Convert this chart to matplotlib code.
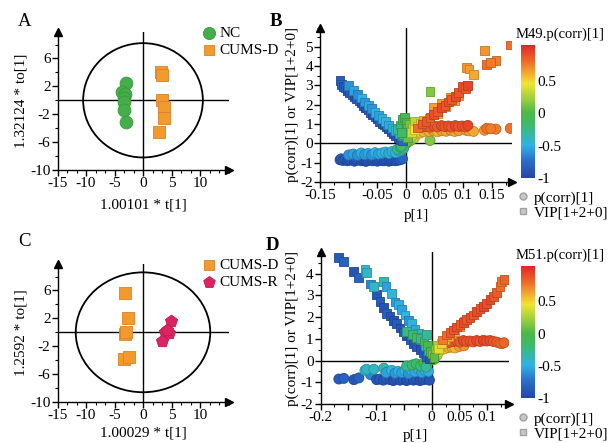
import numpy as np
import matplotlib
matplotlib.use('Agg')
import matplotlib.pyplot as plt
from matplotlib.colors import LinearSegmentedColormap, Normalize
from matplotlib.ticker import AutoMinorLocator
from matplotlib.lines import Line2D
from matplotlib.patches import Ellipse

plt.rcParams['font.family'] = ['Liberation Serif', 'DejaVu Serif']
plt.rcParams['axes.unicode_minus'] = False

# ---------------- data ----------------
# Panel A (score plot)
a_nc_x = [-2.9, -3.6, -3.1, -3.3, -3.4, -3.3, -2.9]
a_nc_y = [2.5, 1.2, 0.9, 0.3, -0.2, -1.4, -3.1]
a_d_x = [3.2, 3.3, 3.4, 3.6, 3.6, 2.8]
a_d_y = [4.0, 3.7, 0.1, -0.9, -2.5, -4.6]
a_ellipse = (10.5, 8.2)

# Panel C (score plot)
c_d_x = [-3.2, -2.7, -3.1, -3.0, -3.3, -2.5]
c_d_y = [5.7, 2.0, -0.2, 0.1, -3.85, -3.5]
c_r_x = [4.9, 3.9, 4.6, 3.3, 4.2]
c_r_y = [1.6, 0.1, -0.1, -1.3, 0.3]
c_ellipse = (11.8, 8.6)

# Panel B (S-plot, model M49): loading p[1], p(corr)[1], VIP
b_p = [-0.115, -0.113, -0.110, -0.106, -0.102, -0.098, -0.094, -0.090, -0.086, -0.082,
       -0.078, -0.074, -0.070, -0.066, -0.062, -0.058, -0.054, -0.050, -0.046, -0.042,
       -0.038, -0.034, -0.030, -0.026, -0.022, -0.018, -0.014, -0.010, -0.006,
       -0.100, -0.092, -0.085, -0.078, -0.072, -0.066, -0.060, -0.054, -0.048, -0.042,
       -0.036, -0.030, -0.024, -0.018, -0.012, -0.007,
       -0.015, -0.010, -0.006, -0.003, 0.000, 0.003, 0.006, 0.009, -0.004, 0.002,
       0.012, 0.015, -0.008, 0.042,
       0.010, 0.015, 0.020, 0.025, 0.030,
       0.040, 0.048, 0.055, 0.062, 0.070, 0.078, 0.085, 0.092, 0.105, 0.110,
       0.118, 0.137, 0.141, 0.157, 0.182, 0.148,
       0.020, 0.028, 0.035, 0.042, 0.048, 0.055, 0.062, 0.068, 0.074, 0.080,
       0.086, 0.092, 0.098, 0.104, 0.108]
b_pcorr = [-0.85, -0.80, -0.88, -0.83, -0.90, -0.86, -0.82, -0.92, -0.87, -0.80,
           -0.90, -0.85, -0.93, -0.88, -0.82, -0.90, -0.86, -0.92, -0.84, -0.88,
           -0.90, -0.85, -0.92, -0.88, -0.86, -0.90, -0.87, -0.85, -0.80,
           -0.60, -0.55, -0.62, -0.50, -0.58, -0.52, -0.60, -0.48, -0.55, -0.50,
           -0.45, -0.52, -0.42, -0.48, -0.40, -0.35,
           -0.30, -0.20, -0.12, -0.05, 0.00, 0.05, 0.12, 0.18, -0.25, 0.08,
           0.25, 0.30, -0.15, 0.15,
           0.35, 0.45, 0.50, 0.55, 0.60,
           0.62, 0.65, 0.60, 0.66, 0.63, 0.68, 0.62, 0.66, 0.68, 0.65,
           0.62, 0.68, 0.78, 0.74, 0.78, 0.76,
           0.80, 0.85, 0.88, 0.84, 0.90, 0.86, 0.92, 0.87, 0.90, 0.85,
           0.92, 0.88, 0.90, 0.86, 0.93]
b_vip = [3.25, 3.05, 2.95, 2.90, 2.75, 2.65, 2.55, 2.40, 2.30, 2.20,
         2.10, 1.95, 1.85, 1.75, 1.60, 1.50, 1.40, 1.30, 1.15, 1.05,
         0.95, 0.85, 0.75, 0.62, 0.52, 0.40, 0.30, 0.22, 0.15,
         3.00, 2.75, 2.55, 2.35, 2.15, 1.98, 1.80, 1.62, 1.45, 1.28,
         1.12, 0.95, 0.80, 0.65, 0.50, 0.38,
         0.70, 0.95, 1.25, 1.35, 1.10, 0.80, 1.00, 0.60, 0.45, 0.30,
         0.85, 1.15, 0.55, 2.68,
         0.55, 0.70, 0.90, 1.05, 1.20,
         1.30, 1.85, 1.55, 2.05, 1.90, 2.40, 2.20, 2.50, 3.93, 3.85,
         3.58, 4.80, 4.10, 4.30, 5.10, 4.20,
         0.80, 1.00, 1.15, 1.35, 1.50, 1.65, 1.85, 1.98, 2.15, 2.28,
         2.45, 2.62, 2.95, 2.85, 2.98]

# Panel D (S-plot, model M51)
d_p = [-0.167, -0.158, -0.140, -0.131, -0.110, -0.099, -0.093, -0.087, -0.081, -0.075,
       -0.069, -0.063, -0.057, -0.051, -0.045, -0.039, -0.033, -0.027, -0.021, -0.015,
       -0.009, -0.004,
       -0.120, -0.117, -0.104, -0.086, -0.082, -0.072, -0.066, -0.060, -0.054, -0.048,
       -0.042, -0.036, -0.030, -0.024, -0.018, -0.012, -0.006,
       -0.045, -0.035, -0.028, -0.020, -0.014, -0.008, -0.003, 0.002, 0.006, 0.010,
       -0.010, 0.004,
       0.012, 0.018, 0.024, 0.030, 0.036, 0.042, 0.050, 0.058,
       0.020, 0.027, 0.033, 0.039, 0.045, 0.051, 0.057, 0.063, 0.069, 0.075,
       0.081, 0.087, 0.093, 0.099, 0.105, 0.111, 0.117, 0.123, 0.126, 0.130]
d_pcorr = [-0.85, -0.82, -0.88, -0.80, -0.65, -0.88, -0.85, -0.90, -0.83, -0.88,
           -0.92, -0.85, -0.90, -0.86, -0.92, -0.84, -0.90, -0.87, -0.92, -0.88,
           -0.85, -0.90,
           -0.45, -0.40, -0.40, -0.35, -0.55, -0.45, -0.58, -0.50, -0.55, -0.48,
           -0.60, -0.45, -0.52, -0.40, -0.55, -0.45, -0.50,
           -0.25, -0.20, -0.15, -0.25, -0.10, -0.05, 0.00, 0.10, 0.15, 0.25,
           -0.30, 0.05,
           0.40, 0.50, 0.55, 0.60, 0.62, 0.58, 0.65, 0.68,
           0.75, 0.80, 0.85, 0.88, 0.90, 0.85, 0.92, 0.88, 0.90, 0.86,
           0.92, 0.88, 0.93, 0.90, 0.92, 0.88, 0.85, 0.80, 0.78, 0.82]
d_vip = [4.73, 4.58, 4.12, 3.81, 3.53, 3.03, 2.72, 2.46, 2.18, 2.05,
         1.85, 1.70, 1.50, 1.32, 1.15, 0.98, 0.80, 0.65, 0.50, 0.35,
         0.20, 0.10,
         4.20, 4.05, 3.40, 3.64, 3.40, 3.10, 2.70, 2.60, 2.35, 2.10,
         1.85, 1.70, 1.45, 1.25, 0.95, 0.70, 0.45,
         1.35, 1.20, 1.05, 1.00, 0.90, 0.70, 0.40, 0.30, 0.50, 0.70,
         1.20, 0.15,
         0.55, 0.80, 0.95, 1.10, 1.25, 1.35, 1.55, 1.80,
         0.95, 1.18, 1.30, 1.41, 1.55, 1.65, 1.75, 1.88, 2.00, 2.10,
         2.25, 2.40, 2.49, 2.62, 2.80, 2.95, 3.15, 3.41, 3.64, 3.72]

# ---------------- style ----------------
W, H = 616, 443
fig = plt.figure(figsize=(W / 100, H / 100), dpi=100)
FS = 11

cmap = LinearSegmentedColormap.from_list('splot', [
    (0.00, '#2446a6'), (0.13, '#2a6ecb'), (0.25, '#2fb3e6'), (0.40, '#3dba6a'),
    (0.49, '#4cb848'), (0.63, '#b5d63a'), (0.71, '#f1e433'), (0.80, '#f4a231'),
    (0.88, '#ee6a28'), (1.00, '#e2262a')])
norm = Normalize(vmin=-1, vmax=1.05)


def ax_px(l, r, b, t):
    return fig.add_axes([l / W, 1 - b / H, (r - l) / W, (b - t) / H])


def base_axes(ax):
    for s in ['top', 'right']:
        ax.spines[s].set_visible(False)
    for s in ['left', 'bottom']:
        ax.spines[s].set_linewidth(1.0)
    ax.tick_params(axis='both', which='major', direction='out', length=4, width=1,
                   labelsize=FS, pad=1)
    ax.tick_params(axis='both', which='minor', direction='out', length=2, width=0.8)
    ax.plot(0, 1, marker='^', color='k', ms=6, transform=ax.transAxes, clip_on=False)
    ax.plot(1, 0, marker='>', color='k', ms=6, transform=ax.transAxes, clip_on=False)
    ax.axhline(0, color='k', lw=1.0, zorder=1)
    ax.axvline(0, color='k', lw=1.0, zorder=1)


def score_panel(ax, ell, xlabel, ylabel, xpad):
    base_axes(ax)
    ax.set_xlim(-15, 15)
    ax.set_ylim(-10, 9.8)
    ax.add_patch(Ellipse((0, 0), 2 * ell[0], 2 * ell[1], fill=False, lw=1.3, ec='k', zorder=2))
    ax.set_xticks([-15, -10, -5, 0, 5, 10])
    ax.set_yticks([-10, -6, -2, 2, 6])
    ax.xaxis.set_minor_locator(AutoMinorLocator(3))
    ax.yaxis.set_minor_locator(AutoMinorLocator(2))
    ax.set_xlabel(xlabel, fontsize=FS, labelpad=xpad)
    ax.set_ylabel(ylabel, fontsize=FS, labelpad=2)


def splot_panel(ax, p, pc, vip, xlim, ylim, xticks, xticklabels, yticks, xpad):
    base_axes(ax)
    ax.set_xlim(xlim)
    ax.set_ylim(ylim)
    cols = cmap(norm(np.array(pc)))
    edge = cols.copy()
    edge[:, :3] *= 0.8
    ax.scatter(p, pc, s=52, c=cols, marker='o', edgecolors=edge, linewidths=0.6, zorder=3)
    ax.scatter(p, vip, s=40, c=cols, marker='s', edgecolors=edge, linewidths=0.6, zorder=3)
    ax.set_xticks(xticks)
    ax.set_xticklabels(xticklabels)
    ax.set_yticks(yticks)
    ax.yaxis.set_minor_locator(AutoMinorLocator(2))
    ax.xaxis.set_minor_locator(AutoMinorLocator(2))
    ax.set_xlabel('p[1]', fontsize=FS, labelpad=xpad)
    ax.set_ylabel('p(corr)[1] or VIP[1+2+0]', fontsize=FS, labelpad=1)


def colorbar_panel(l, r, b, t, title, leg_y):
    cax = ax_px(l, r, b, t)
    sm = plt.cm.ScalarMappable(norm=norm, cmap=cmap)
    cb = fig.colorbar(sm, cax=cax)
    cb.outline.set_visible(False)
    cb.set_ticks([0.5, 0, -0.5, -1])
    cb.set_ticklabels(['0.5', '0', '-0.5', '-1'])
    cax.tick_params(length=0, labelsize=FS, pad=2)
    fig.text((l - 5) / W, 1 - (t - 11) / H, title, fontsize=FS - 0.5, ha='left', va='center')
    handles = [Line2D([], [], ls='none', marker='o', ms=5, mfc='#c8c8c8', mec='#a0a0a0'),
               Line2D([], [], ls='none', marker='s', ms=5, mfc='#c8c8c8', mec='#a0a0a0')]
    fig.legend(handles, ['p(corr)[1]', 'VIP[1+2+0]'], loc='upper left',
               bbox_to_anchor=((l - 6) / W, 1 - leg_y / H), frameon=False,
               fontsize=FS, handlelength=1.0, handletextpad=0.2, labelspacing=0.05,
               borderpad=0, borderaxespad=0)


# Panel A
axA = ax_px(57.5, 228.5, 170, 32)
score_panel(axA, a_ellipse, '1.00101 * t[1]', '1.32124 * to[1]', 6)
axA.scatter(a_nc_x, a_nc_y, s=85, c='#45ae4b', edgecolors='#389a3e', linewidths=0.6,
            marker='o', zorder=3, label='NC')
axA.scatter(a_d_x, a_d_y, s=65, c='#f39a2e', edgecolors='#d9822a', linewidths=0.6,
            marker='s', zorder=3, label='CUMS-D')
axA.legend(loc='upper left', bbox_to_anchor=(0.85, 1.04), frameon=False, fontsize=FS,
           handlelength=0.8, handletextpad=0.3, labelspacing=0.2, borderpad=0,
           borderaxespad=0, markerscale=0.95)

# Panel C
axC = ax_px(57.5, 228.5, 402, 264)
score_panel(axC, c_ellipse, '1.00029 * t[1]', '1.2592 * to[1]', 3.5)
axC.scatter(c_d_x, c_d_y, s=65, c='#f39a2e', edgecolors='#d9822a', linewidths=0.6,
            marker='s', zorder=3, label='CUMS-D')
axC.scatter(c_r_x, c_r_y, s=85, c='#de2362', edgecolors='#b81d50', linewidths=0.6,
            marker='p', zorder=3, label='CUMS-R')
axC.legend(loc='upper left', bbox_to_anchor=(0.85, 1.04), frameon=False, fontsize=FS,
           handlelength=0.8, handletextpad=0.3, labelspacing=0.2, borderpad=0,
           borderaxespad=0, markerscale=0.95)

# Panel B
axB = ax_px(320, 512, 182, 27.6)
splot_panel(axB, b_p, b_pcorr, b_vip, (-0.15, 0.185), (-2, 6),
            [-0.15, -0.1, -0.05, 0, 0.05, 0.1, 0.15],
            ['-0.15', '', '-0.05', '0', '0.05', '0.1', '0.15'],
            [-2, -1, 0, 1, 2, 3, 4, 5], 5)
colorbar_panel(521, 535, 178, 45, 'M49.p(corr)[1]', 191)

# Panel D
axD = ax_px(320.5, 509.5, 404, 252)
splot_panel(axD, d_p, d_pcorr, d_vip, (-0.2, 0.14), (-2, 5),
            [-0.2, -0.15, -0.1, -0.05, 0, 0.05, 0.1],
            ['-0.2', '', '-0.1', '', '0', '0.05', '0.1'],
            [-2, -1, 0, 1, 2, 3, 4], 3.5)
colorbar_panel(521, 535, 398, 266, 'M51.p(corr)[1]', 412)

# panel letters
fig.text(18 / W, 1 - 21 / H, 'A', fontsize=13.5, va='center', ha='left')
fig.text(270 / W, 1 - 22 / H, 'B', fontsize=13.5, va='center', ha='left', fontweight='bold')
fig.text(18 / W, 1 - 242 / H, 'C', fontsize=13.5, va='center', ha='left')
fig.text(266 / W, 1 - 245 / H, 'D', fontsize=13.5, va='center', ha='left', fontweight='bold')

fig.savefig('out.png', dpi=100)
